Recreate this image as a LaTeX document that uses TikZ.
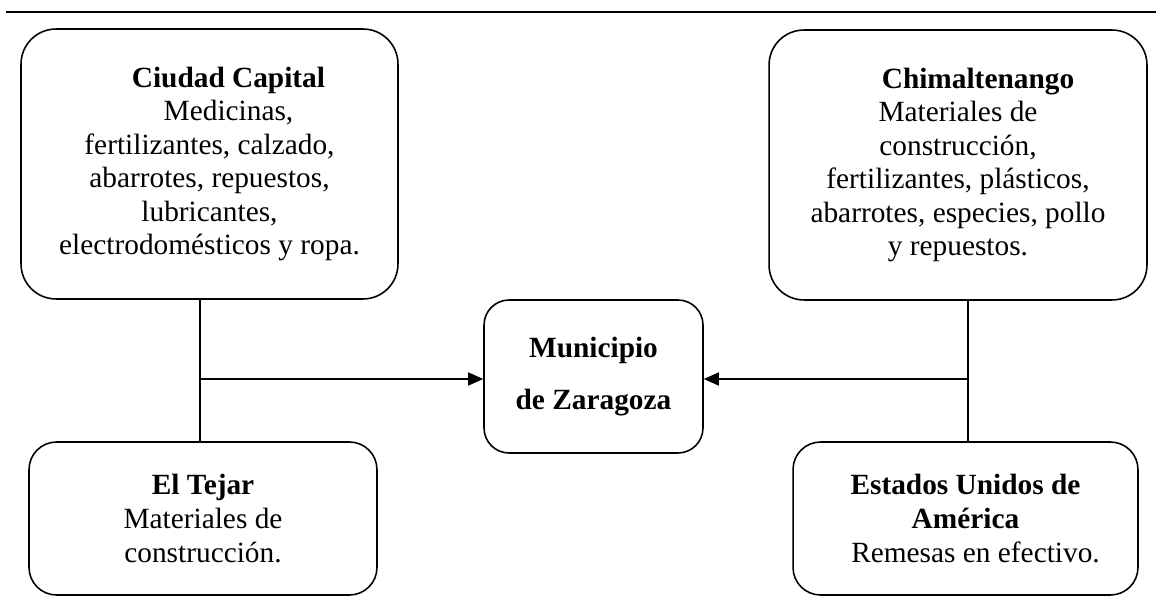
\documentclass[tikz,border=0pt]{standalone}
\usepackage{fontspec}
\setmainfont{Liberation Serif}
\usetikzlibrary{arrows.meta}
\begin{document}
\begin{tikzpicture}[
  x=0.02cm, y=-0.02cm,
  place/.style={draw, line width=0.9pt, rounded corners=0.7cm, align=center, inner sep=0pt,
    font=\fontsize{16.7}{19.1}\selectfont},
  small place/.style={place, rounded corners=0.55cm, minimum height=3.06cm},
  link/.style={line width=0.8pt},
  feed/.style={link, -{Triangle[length=0.3cm, width=0.26cm]}}
]
\useasboundingbox (0,0) rectangle (1156,597);
\draw [line width=1pt] (6,12) -- (1156,12);

% sources
\node [place, minimum width=7.54cm, minimum height=5.4cm] (capital) at (209.5,164)
  {\hspace*{0.76cm}\textbf{Ciudad Capital}\\ \hspace*{0.76cm}Medicinas,\\ fertilizantes, calzado,\\
   abarrotes, repuestos,\\ lubricantes,\\ electrodomésticos y ropa.};
\node [place, minimum width=7.56cm, minimum height=5.4cm] (chim) at (958,165)
  {\hspace*{0.8cm}\textbf{Chimaltenango}\\ Materiales de\\ construcción,\\
   fertilizantes, plásticos,\\ abarrotes, especies, pollo\\ y repuestos.};
\node [small place, minimum width=6.96cm] (tejar) at (203,518.5)
  {\textbf{El Tejar}\\ Materiales de\\ construcción.};
\node [small place, minimum width=6.9cm] (eua) at (965.5,518.5)
  {\textbf{Estados Unidos de}\\ \textbf{América}\\ \hspace*{0.4cm}Remesas en efectivo.};

% destination
\node [small place, rounded corners=0.5cm, minimum width=4.38cm] (muni) at (593.5,376.5)
  {\textbf{Municipio}\\[10pt] \textbf{de Zaragoza}};

% connectors
\coordinate (westjoin) at (200,379);
\coordinate (eastjoin) at (968,379);
\draw [link] (westjoin |- capital.south) -- (westjoin |- tejar.north);
\draw [feed] (westjoin) -- (westjoin -| muni.west);
\draw [link] (eastjoin |- chim.south) -- (eastjoin |- eua.north);
\draw [feed] (eastjoin) -- (eastjoin -| muni.east);
\end{tikzpicture}
\end{document}
